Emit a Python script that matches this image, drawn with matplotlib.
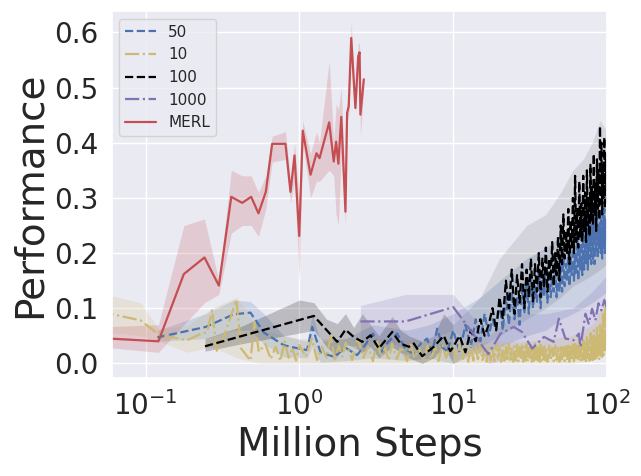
import matplotlib
matplotlib.use("Agg")
import matplotlib.pyplot as plt
import seaborn as sns
import numpy as np

sns.set_theme(style="darkgrid")
plt.rcParams['font.family'] = ['DejaVu Sans']

C_BLUE = (0.298, 0.447, 0.690)
C_YEL = (0.800, 0.725, 0.455)
C_BLK = (0.0, 0.0, 0.0)
C_PUR = (0.506, 0.447, 0.698)
C_RED = (0.769, 0.306, 0.322)

dense_x = [10, 11, 12, 13, 14, 15, 16, 17, 18, 19,
           20, 21, 22, 23, 24, 25, 26, 27, 28, 29,
           30, 31, 32, 33, 34, 35, 36, 37, 38, 39,
           40, 41, 42, 43, 44, 45, 46, 47, 48, 49,
           50, 51, 52, 53, 54, 55, 56, 57, 58, 59,
           60, 61, 62, 63, 64, 65, 66, 67, 68, 69,
           70, 71, 72, 73, 74, 75, 76, 77, 78, 79,
           80, 81, 82, 83, 84, 85, 86, 87, 88, 89,
           90, 91, 92, 93, 94, 95, 96, 97, 98, 99, 100]

# ---- series "50" (blue, dashed)
blue_x_sparse = [0.119, 0.245, 0.374, 0.48, 0.586, 0.79, 0.874, 1.12, 1.21, 1.37, 1.67,
                 2.0, 2.37, 2.7, 3.0, 3.4, 3.8, 4.32, 4.9, 5.54, 6.1, 6.75, 7.3, 7.86, 8.5, 9.1]
blue_y_sparse = [0.047, 0.066, 0.089, 0.092, 0.056, 0.033, 0.030, 0.024, 0.066, 0.020, 0.012,
                 0.028, 0.015, 0.035, 0.054, 0.020, 0.040, 0.054, 0.025, 0.018, 0.035, 0.045,
                 0.020, 0.063, 0.030, 0.020]
blue_y_dense = [0.06, 0.02, 0.07, 0.03, 0.08, 0.04, 0.09, 0.05, 0.08, 0.06,
                0.11, 0.06, 0.12, 0.07, 0.13, 0.08, 0.12, 0.07, 0.14, 0.09,
                0.15, 0.09, 0.16, 0.10, 0.14, 0.11, 0.17, 0.10, 0.15, 0.12,
                0.17, 0.11, 0.18, 0.12, 0.16, 0.13, 0.19, 0.12, 0.17, 0.13,
                0.19, 0.13, 0.20, 0.14, 0.18, 0.15, 0.21, 0.14, 0.19, 0.16,
                0.22, 0.15, 0.20, 0.16, 0.23, 0.15, 0.21, 0.17, 0.24, 0.16,
                0.25, 0.17, 0.23, 0.18, 0.26, 0.17, 0.24, 0.19, 0.27, 0.18,
                0.25, 0.19, 0.27, 0.18, 0.26, 0.20, 0.28, 0.19, 0.25, 0.21,
                0.28, 0.20, 0.26, 0.19, 0.27, 0.21, 0.28, 0.20, 0.26, 0.22, 0.24]
blue_band_x = [0.119, 0.245, 0.374, 0.48, 0.586, 0.79, 1.12, 1.21, 1.37, 2.0, 3.0, 5.0,
               7.0, 10, 15, 20, 30, 40, 50, 60, 70, 80, 90, 100]
blue_band_lo = [0.040, 0.045, 0.060, 0.060, 0.035, 0.012, 0.010, 0.030, 0.002, 0.005, 0.01, 0.005,
                0.01, 0.0, 0.02, 0.03, 0.05, 0.06, 0.08, 0.09, 0.10, 0.11, 0.12, 0.13]
blue_band_hi = [0.060, 0.090, 0.115, 0.112, 0.090, 0.050, 0.040, 0.090, 0.040, 0.045, 0.07, 0.06,
                0.07, 0.09, 0.12, 0.15, 0.19, 0.21, 0.23, 0.25, 0.27, 0.29, 0.30, 0.30]

# ---- series "10" (yellow, dash-dot)
yel_x_sparse = [0.05, 0.0607, 0.0925, 0.122, 0.186, 0.222, 0.251, 0.270, 0.291, 0.314,
                0.389, 0.417, 0.480, 0.510, 0.544,
                0.6, 0.65, 0.7, 0.75, 0.8, 0.85, 0.9, 0.95, 1.0, 1.1, 1.2, 1.3, 1.4, 1.5,
                1.6, 1.7, 1.8, 1.9, 2.0, 2.2, 2.4, 2.6, 2.8, 3.0, 3.2, 3.4, 3.6, 3.8, 4.0,
                4.3, 4.6, 5.0, 5.3, 5.6, 6.0, 6.4, 6.8, 7.2, 7.6, 8.0, 8.5, 9.0, 9.5]
yel_y_sparse = [0.092, 0.089, 0.078, 0.052, 0.042, 0.052, 0.057, 0.096, 0.021, 0.039,
                0.115, 0.027, 0.005, 0.075, 0.021,
                0.035, 0.008, 0.030, 0.004, 0.040, 0.010, 0.028, 0.005, 0.033, 0.012, 0.045,
                0.006, 0.030, 0.010, 0.050, 0.004, 0.032, 0.012, 0.038, 0.006, 0.045, 0.010,
                0.030, 0.004, 0.040, 0.012, 0.028, 0.005, 0.036, 0.008, 0.030, 0.004, 0.034,
                0.010, 0.028, 0.005, 0.032, 0.008, 0.030, 0.004, 0.033, 0.010, 0.028]
yel_x_dense = [10, 10.5, 11, 11.5, 12, 12.5, 13, 13.5, 14, 14.5,
               15, 15.5, 16, 16.5, 17, 17.5, 18, 18.5, 19, 19.5,
               20, 20.5, 21, 21.5, 22, 22.5, 23, 23.5, 24, 24.5,
               25, 25.5, 26, 26.5, 27, 27.5, 28, 28.5, 29, 29.5,
               30, 30.5, 31, 31.5, 32, 32.5, 33, 33.5, 34, 34.5,
               35, 35.5, 36, 36.5, 37, 37.5, 38, 38.5, 39, 39.5,
               40, 41, 42, 43, 44, 45, 46, 47, 48, 49,
               50, 51, 52, 53, 54, 55, 56, 57, 58, 59,
               60, 61, 62, 63, 64, 65, 66, 67, 68, 69,
               70, 71, 72, 73, 74, 75, 76, 77, 78, 79,
               80, 81, 82, 83, 84, 85, 86, 87, 88, 89,
               90, 91, 92, 93, 94, 95, 96, 97, 98, 99, 100]
yel_y_dense = [0.030, 0.004, 0.035, 0.006, 0.028, 0.003, 0.032, 0.005, 0.030, 0.004,
               0.034, 0.006, 0.027, 0.003, 0.031, 0.005, 0.029, 0.004, 0.036, 0.006,
               0.028, 0.003, 0.033, 0.005, 0.030, 0.004, 0.035, 0.006, 0.027, 0.003,
               0.031, 0.005, 0.034, 0.004, 0.029, 0.006, 0.032, 0.003, 0.030, 0.005,
               0.035, 0.004, 0.028, 0.006, 0.033, 0.003, 0.030, 0.005, 0.036, 0.004,
               0.029, 0.006, 0.032, 0.003, 0.034, 0.005, 0.028, 0.004, 0.031, 0.006,
               0.029, 0.003, 0.034, 0.005, 0.028, 0.004, 0.032, 0.006, 0.030, 0.003,
               0.033, 0.005, 0.029, 0.004, 0.031, 0.006, 0.036, 0.003, 0.030, 0.005,
               0.034, 0.004, 0.040, 0.006, 0.032, 0.005, 0.045, 0.004, 0.035, 0.006,
               0.042, 0.005, 0.038, 0.004, 0.050, 0.006, 0.040, 0.005, 0.055, 0.007,
               0.048, 0.006, 0.060, 0.008, 0.050, 0.007, 0.065, 0.010, 0.055, 0.008,
               0.070, 0.010, 0.065, 0.012, 0.090, 0.015, 0.080, 0.020, 0.110, 0.030, 0.100]
yel_band_x = [0.05, 0.0925, 0.122, 0.186, 0.27, 0.39, 0.55, 1.0, 3.0, 10, 30, 60, 80, 100]
yel_band_lo = [0.058, 0.050, 0.040, 0.020, 0.030, 0.010, 0.000, 0.000, 0.000, 0.000, 0.000, 0.000, 0.005, 0.02]
yel_band_hi = [0.128, 0.110, 0.062, 0.068, 0.100, 0.120, 0.060, 0.045, 0.045, 0.040, 0.040, 0.050, 0.070, 0.12]

# ---- series "100" (black, dashed)
blk_x_sparse = [0.243, 1.24, 1.76, 1.99, 2.25, 2.56, 2.90, 3.28, 4.01, 4.54, 5.14, 5.54,
                6.28, 7.47, 8.68, 9.56]
blk_y_sparse = [0.031, 0.086, 0.039, 0.061, 0.048, 0.039, 0.051, 0.027, 0.057, 0.036, 0.030,
                0.036, 0.013, 0.030, 0.050, 0.022]
blk_y_dense = [0.03, 0.05, 0.02, 0.06, 0.04, 0.08, 0.05, 0.07, 0.10, 0.06,
               0.12, 0.08, 0.15, 0.10, 0.17, 0.09, 0.16, 0.11, 0.18, 0.10,
               0.17, 0.12, 0.19, 0.11, 0.18, 0.13, 0.20, 0.12, 0.19, 0.14,
               0.21, 0.13, 0.19, 0.15, 0.22, 0.14, 0.20, 0.16, 0.23, 0.15,
               0.25, 0.18, 0.27, 0.19, 0.24, 0.20, 0.28, 0.18, 0.26, 0.21,
               0.30, 0.20, 0.34, 0.22, 0.28, 0.21, 0.33, 0.23, 0.29, 0.22,
               0.34, 0.24, 0.31, 0.22, 0.35, 0.25, 0.30, 0.23, 0.36, 0.26,
               0.32, 0.25, 0.38, 0.27, 0.33, 0.24, 0.37, 0.28, 0.35, 0.26,
               0.43, 0.29, 0.40, 0.27, 0.36, 0.30, 0.41, 0.28, 0.38, 0.31, 0.29]
# confidence band, early part (denser shade) and late part (lighter shade)
blk_band_x_early = [0.243, 0.41, 1.0, 1.24, 1.5, 1.76, 1.99, 2.25, 2.56, 2.9, 3.28, 4.01,
                    4.54, 5.14, 6.28, 7.47, 8.68, 10]
blk_band_lo_early = [0.022, 0.035, 0.055, 0.060, 0.030, 0.012, 0.035, 0.030, 0.020, 0.030,
                     0.010, 0.030, 0.020, 0.010, 0.000, 0.010, 0.030, 0.000]
blk_band_hi_early = [0.045, 0.066, 0.115, 0.110, 0.080, 0.072, 0.090, 0.065, 0.090, 0.070,
                     0.050, 0.085, 0.060, 0.050, 0.040, 0.050, 0.090, 0.070]
blk_band_x_late = [10, 15, 20, 30, 40, 50, 60, 70, 80, 90, 100]
blk_band_lo_late = [0.000, 0.030, 0.050, 0.080, 0.100, 0.120, 0.140, 0.150, 0.160, 0.170, 0.180]
blk_band_hi_late = [0.070, 0.120, 0.190, 0.250, 0.270, 0.310, 0.350, 0.370, 0.400, 0.440, 0.420]

# ---- series "1000" (purple, dash-dot)
pur_x = [2.49, 4.9, 10.0, 16.9, 20.3, 24.7, 28.0, 32.6, 38.9, 45.0, 48.6, 53.6, 60.7, 65.5,
         67.2, 72.4, 76.0, 80.0, 84.0, 88.0, 92.0, 96.0, 100.0]
pur_y = [0.076, 0.076, 0.102, 0.017, 0.054, 0.066, 0.057, 0.027, 0.048, 0.039, 0.081, 0.045,
         0.042, 0.054, 0.030, 0.090, 0.072, 0.099, 0.078, 0.109, 0.096, 0.115, 0.100]
pur_band_x = [2.49, 4.9, 10.0, 17.0, 25.0, 40.0, 60.0, 80.0, 100.0]
pur_band_lo = [0.045, 0.030, 0.060, 0.000, 0.010, 0.015, 0.020, 0.030, 0.040]
pur_band_hi = [0.105, 0.125, 0.125, 0.050, 0.090, 0.090, 0.100, 0.130, 0.160]

# ---- series "MERL" (red, solid)
merl_x = [0.05, 0.121, 0.177, 0.241, 0.299, 0.360, 0.424, 0.485, 0.541, 0.604, 0.664, 0.811,
          0.874, 0.928, 0.996, 1.05, 1.18, 1.29, 1.35, 1.56, 1.67, 1.73, 1.79, 1.87, 1.99,
          2.04, 2.09, 2.17, 2.31, 2.41, 2.46, 2.49, 2.62]
merl_y = [0.046, 0.040, 0.162, 0.192, 0.141, 0.302, 0.291, 0.302, 0.272, 0.311, 0.398, 0.398,
          0.311, 0.377, 0.231, 0.422, 0.342, 0.381, 0.372, 0.437, 0.366, 0.402, 0.362, 0.447,
          0.275, 0.454, 0.466, 0.590, 0.463, 0.557, 0.564, 0.451, 0.515]
merl_lo = [0.030, 0.020, 0.070, 0.110, 0.125, 0.236, 0.250, 0.250, 0.230, 0.280, 0.365, 0.370,
           0.290, 0.330, 0.150, 0.400, 0.300, 0.330, 0.330, 0.350, 0.340, 0.270, 0.250, 0.380,
           0.250, 0.440, 0.450, 0.580, 0.455, 0.530, 0.550, 0.410, 0.500]
merl_hi = [0.066, 0.070, 0.250, 0.262, 0.150, 0.350, 0.340, 0.340, 0.310, 0.340, 0.412, 0.420,
           0.330, 0.400, 0.300, 0.440, 0.380, 0.420, 0.400, 0.548, 0.400, 0.470, 0.460, 0.500,
           0.300, 0.470, 0.480, 0.620, 0.470, 0.580, 0.580, 0.460, 0.520]

labels = ["50", "10", "100", "1000", "MERL"]

fig = plt.figure(figsize=(6.41, 4.76), dpi=100)
ax = fig.add_axes([0.1743, 0.2065, 0.7727, 0.7705])

lw = 1.6
# 50
ax.fill_between(blue_band_x, blue_band_lo, blue_band_hi, color=C_BLUE, alpha=0.2, lw=0)
ax.plot(blue_x_sparse + dense_x, blue_y_sparse + blue_y_dense, color=C_BLUE, ls="--", lw=lw,
        label=labels[0])
# 10
ax.fill_between(yel_band_x, yel_band_lo, yel_band_hi, color=C_YEL, alpha=0.2, lw=0)
ax.plot(yel_x_sparse + yel_x_dense, yel_y_sparse + yel_y_dense, color=C_YEL, ls="-.", lw=lw,
        label=labels[1])
# 100
ax.fill_between(blk_band_x_early, blk_band_lo_early, blk_band_hi_early, color=C_BLK,
                alpha=0.2, lw=0)
ax.fill_between(blk_band_x_late, blk_band_lo_late, blk_band_hi_late, color=C_BLK,
                alpha=0.09, lw=0)
ax.plot(blk_x_sparse + dense_x, blk_y_sparse + blk_y_dense, color=C_BLK, ls="--", lw=lw,
        label=labels[2])
# 1000
ax.fill_between(pur_band_x, pur_band_lo, pur_band_hi, color=C_PUR, alpha=0.2, lw=0)
ax.plot(pur_x, pur_y, color=C_PUR, ls="-.", lw=lw, label=labels[3])
# MERL
ax.fill_between(merl_x, merl_lo, merl_hi, color=C_RED, alpha=0.2, lw=0)
ax.plot(merl_x, merl_y, color=C_RED, ls="-", lw=lw, label=labels[4])

ax.set_xscale("log")
ax.set_xlim(0.0601, 100)
ax.set_ylim(-0.026, 0.639)
ax.set_yticks([0.0, 0.1, 0.2, 0.3, 0.4, 0.5, 0.6])
ax.set_yticklabels(["0.0", "0.1", "0.2", "0.3", "0.4", "0.5", "0.6"])
ax.tick_params(axis="both", which="major", labelsize=20)
ax.tick_params(axis="x", which="minor", bottom=False)
ax.grid(which="minor", visible=False)
ax.set_xlabel("Million Steps", fontsize=28)
ax.set_ylabel("Performance", fontsize=28)
ax.legend(loc="upper left", fontsize=11)

fig.savefig("out.png", dpi=100)
